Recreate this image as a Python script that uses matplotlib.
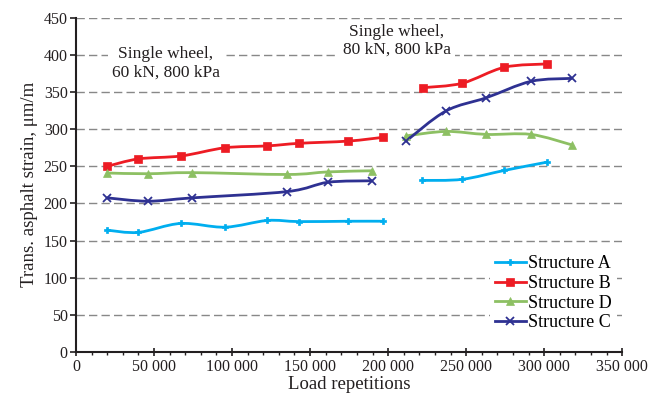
import numpy as np
import matplotlib
matplotlib.use("Agg")
import matplotlib.pyplot as plt
from matplotlib.path import Path
from matplotlib.patches import PathPatch
from matplotlib.lines import Line2D
from matplotlib.ticker import MultipleLocator, FuncFormatter

plt.rcParams['font.family'] = ['Liberation Serif', 'DejaVu Serif']

# --- data ---
# 60 kN period
a1_x = [20000, 40000, 67000, 95500, 122500, 143000, 174500, 196500]
a1_y = [164, 161, 173, 168, 177, 175.5, 176, 176]
b1_x = [20000, 40000, 67500, 95500, 122500, 143000, 174500, 196500]
b1_y = [250, 260, 264, 275, 277.5, 281, 284, 289]
d1_x = [20000, 46000, 74500, 135500, 161500, 189500]
d1_y = [241, 240, 241.5, 239, 242.5, 244]
c1_x = [20000, 46000, 74500, 135500, 161500, 189500]
c1_y = [207.5, 203, 207.5, 216, 228.5, 230.5]

# 80 kN period
a2_x = [222000, 247500, 274500, 301500]
a2_y = [231, 232.5, 244.5, 255.5]
b2_x = [222500, 247500, 274500, 302000]
b2_y = [356, 362, 383.5, 388]
d2_x = [211500, 237000, 263000, 291500, 317500]
d2_y = [291, 297, 293, 293, 279]
c2_x = [211500, 237000, 263000, 291500, 317500]
c2_y = [284, 324.5, 342.5, 364.5, 368.5]

names = ['Structure A', 'Structure B', 'Structure D', 'Structure C']
colors = ['#00AEEF', '#ED1C24', '#8DC063', '#2E3192']
markers = ['P', 's', '^', 'x']
msizes = [5, 6, 5.5, 6]


def smooth_path(x, y):
    # catmull-rom style bezier through the points (like Excel smoothed lines)
    p = np.column_stack([x, y]).astype(float)
    n = len(p)
    verts = [p[0]]
    codes = [Path.MOVETO]
    for i in range(n - 1):
        p0 = p[i - 1] if i > 0 else p[i]
        p3 = p[i + 2] if i + 2 < n else p[i + 1]
        c1 = p[i] + (p[i + 1] - p0) / 6.0
        c2 = p[i + 1] - (p3 - p[i]) / 6.0
        verts += [c1, c2, p[i + 1]]
        codes += [Path.CURVE4] * 3
    return Path(verts, codes)


fig = plt.figure(figsize=(6.55, 3.98), dpi=100)
ax = fig.add_axes([0.116, 0.116, 0.834, 0.839])

series = [
    (a1_x, a1_y, a2_x, a2_y),
    (b1_x, b1_y, b2_x, b2_y),
    (d1_x, d1_y, d2_x, d2_y),
    (c1_x, c1_y, c2_x, c2_y),
]

for k, (x1, y1, x2, y2) in enumerate(series):
    for xs, ys in [(x1, y1), (x2, y2)]:
        ax.add_patch(PathPatch(smooth_path(xs, ys), fill=False, edgecolor=colors[k],
                               lw=2.0, zorder=3, capstyle='round'))
        ax.plot(xs, ys, ls='none', marker=markers[k], ms=msizes[k],
                color=colors[k], mew=1.3 if markers[k] == 'x' else 0.5, zorder=4)

ax.set_xlim(0, 350000)
ax.set_ylim(0, 450)
ax.yaxis.set_major_locator(MultipleLocator(50))
ax.xaxis.set_major_locator(MultipleLocator(50000))
ax.xaxis.set_minor_locator(MultipleLocator(10000))
ax.xaxis.set_major_formatter(FuncFormatter(lambda v, p: f"{int(v):,}".replace(",", " ")))
ax.grid(axis='y', color='#888888', ls=(0, (6, 3)), lw=1.0, zorder=1)
ax.set_axisbelow(True)

for s in ['top', 'right']:
    ax.spines[s].set_visible(False)
for s in ['left', 'bottom']:
    ax.spines[s].set_linewidth(1.5)
    ax.spines[s].set_color('#231F20')

ax.tick_params(axis='x', which='major', direction='inout', length=6, width=1.2,
               labelsize=11.5, pad=2, colors='#231F20')
ax.tick_params(axis='x', which='minor', direction='out', length=2.5, width=1.0, colors='#231F20')
ax.tick_params(axis='y', which='major', direction='out', length=4, width=1.2,
               labelsize=11.5, pad=2, colors='#231F20')

ax.set_xlabel('Load repetitions', fontsize=13.5, labelpad=1, color='#231F20')
ax.set_ylabel('Trans. asphalt strain, μm/m', fontsize=13.5, labelpad=4, color='#231F20')

box = dict(facecolor='white', edgecolor='none', pad=3)
ax.text(57500, 389, 'Single wheel,\n60 kN, 800 kPa', ha='center', va='center',
        fontsize=12.5, linespacing=1.2, bbox=box, zorder=2, color='#231F20')
ax.text(205500, 419, 'Single wheel,\n80 kN, 800 kPa', ha='center', va='center',
        fontsize=12.5, linespacing=1.2, bbox=box, zorder=2, color='#231F20')

handles = [Line2D([], [], color=colors[k], lw=2.0, marker=markers[k], ms=msizes[k],
                  mew=1.3 if markers[k] == 'x' else 0.5) for k in range(4)]
leg = ax.legend(handles, names, loc='lower right', bbox_to_anchor=(0.99, 0.045),
                frameon=True, fontsize=13, handlelength=1.7, handletextpad=0.1,
                labelspacing=0.15, borderpad=0.3, borderaxespad=0.0)
leg.get_frame().set_edgecolor('none')
leg.get_frame().set_facecolor('white')
leg.get_frame().set_alpha(1.0)

fig.savefig('out.png', dpi=100)
